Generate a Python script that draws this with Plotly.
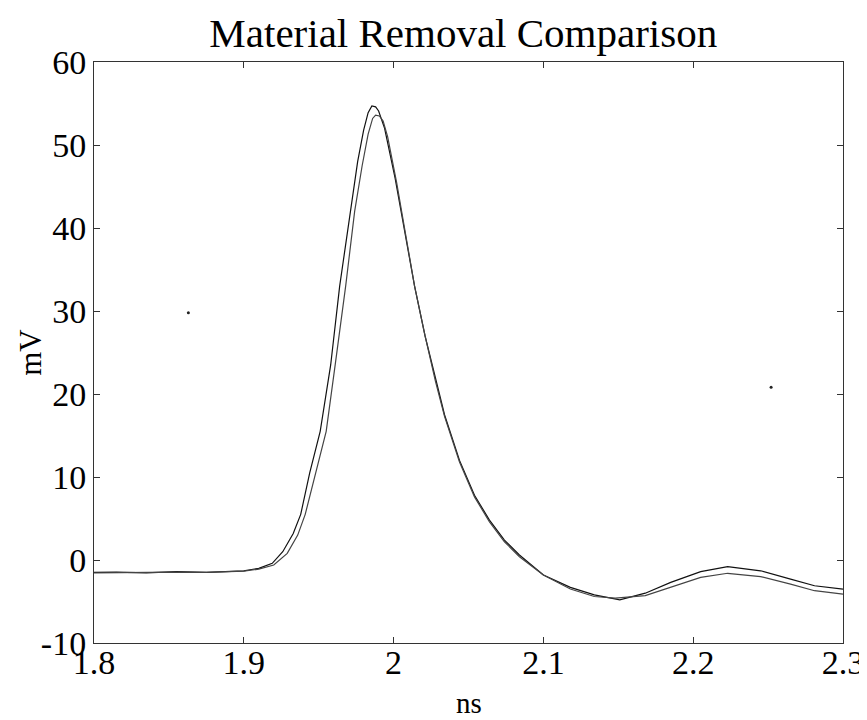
import plotly.graph_objects as go

# Curve A (higher peak)
time_a = [1.800, 1.815, 1.835, 1.855, 1.875, 1.890, 1.900, 1.910, 1.919, 1.926,
          1.933, 1.938, 1.944, 1.951, 1.958, 1.964, 1.971, 1.976, 1.980, 1.983,
          1.9855, 1.988, 1.990, 1.994, 2.001, 2.008, 2.014, 2.021, 2.028, 2.034,
          2.044, 2.054, 2.064, 2.074, 2.084, 2.100, 2.118, 2.134, 2.151, 2.168,
          2.185, 2.205, 2.223, 2.245, 2.265, 2.281, 2.300]
mv_a = [-1.5, -1.45, -1.55, -1.4, -1.5, -1.4, -1.3, -1.0, -0.4, 1.0,
        3.2, 5.5, 10.5, 15.5, 23.5, 33.0, 42.0, 48.0, 51.8, 53.9,
        54.7, 54.6, 54.1, 52.0, 46.0, 39.2, 33.0, 27.0, 21.7, 17.5,
        12.0, 7.8, 4.8, 2.4, 0.6, -1.8, -3.3, -4.2, -4.8, -4.0,
        -2.7, -1.4, -0.8, -1.3, -2.3, -3.1, -3.5]

# Curve B (lower peak)
time_b = [1.800, 1.815, 1.835, 1.855, 1.875, 1.890, 1.900, 1.910, 1.920, 1.929,
          1.936, 1.941, 1.948, 1.955, 1.961, 1.968, 1.974, 1.979, 1.983, 1.986,
          1.988, 1.9905, 1.993, 1.996, 2.002, 2.008, 2.014, 2.021, 2.028, 2.034,
          2.044, 2.054, 2.064, 2.074, 2.084, 2.100, 2.118, 2.134, 2.148, 2.168,
          2.185, 2.205, 2.223, 2.245, 2.265, 2.281, 2.300]
mv_b = [-1.55, -1.5, -1.5, -1.45, -1.5, -1.45, -1.35, -1.1, -0.6, 0.8,
        3.0, 5.5, 10.5, 15.5, 23.5, 33.0, 42.0, 47.5, 51.3, 53.2,
        53.6, 53.5, 52.9, 51.0, 45.5, 39.2, 33.0, 27.0, 21.5, 17.3,
        11.8, 7.6, 4.6, 2.2, 0.4, -1.8, -3.5, -4.4, -4.6, -4.3,
        -3.3, -2.1, -1.6, -2.0, -2.9, -3.7, -4.1]

# Stray specks visible in the scan
speck_time = [1.863, 2.252]
speck_mv = [29.8, 20.8]

x_ticks = [1.8, 1.9, 2.0, 2.1, 2.2, 2.3]
x_tick_labels = ["1.8", "1.9", "2", "2.1", "2.2", "2.3"]
y_ticks = [-10, 0, 10, 20, 30, 40, 50, 60]
y_tick_labels = ["-10", "0", "10", "20", "30", "40", "50", "60"]

fig = go.Figure()
fig.add_trace(go.Scatter(x=time_a, y=mv_a, mode="lines",
                         line=dict(color="#111111", width=1.2), showlegend=False))
fig.add_trace(go.Scatter(x=time_b, y=mv_b, mode="lines",
                         line=dict(color="#444444", width=1.2), showlegend=False))
fig.add_trace(go.Scatter(x=speck_time, y=speck_mv, mode="markers",
                         marker=dict(color="#222222", size=3), showlegend=False))

font_family = "Liberation Serif, Times New Roman, serif"
fig.update_layout(
    width=859, height=712,
    margin=dict(l=86, r=24, t=54, b=77, autoexpand=False),
    paper_bgcolor="white", plot_bgcolor="white",
    title=dict(text="Material Removal Comparison", x=0.53, xanchor="center",
               y=0.966, yanchor="middle",
               font=dict(family=font_family, size=41, color="black")),
    font=dict(family=font_family, color="black"),
    annotations=[
        dict(text="ns", xref="paper", yref="paper", x=0.5, y=-0.104,
             xanchor="center", yanchor="middle", showarrow=False,
             font=dict(family=font_family, size=29, color="black")),
        dict(text="mV", xref="paper", yref="paper", x=-0.085, y=0.5,
             xanchor="center", yanchor="middle", showarrow=False, textangle=-90,
             font=dict(family=font_family, size=31, color="black")),
    ],
)
fig.update_xaxes(range=[1.8, 2.3], tickvals=x_ticks, ticktext=x_tick_labels,
                 ticks="inside", ticklen=6, tickcolor="#333", automargin=False,
                 ticklabelstandoff=-11,
                 showline=True, linecolor="#333", linewidth=1, mirror="ticks",
                 showgrid=False, zeroline=False,
                 tickfont=dict(family=font_family, size=34))
fig.update_yaxes(range=[-10, 60], tickvals=y_ticks, ticktext=y_tick_labels,
                 ticks="inside", ticklen=6, tickcolor="#333", automargin=False,
                 showline=True, linecolor="#333", linewidth=1, mirror="ticks",
                 showgrid=False, zeroline=False,
                 tickfont=dict(family=font_family, size=34))

fig.write_html("out.html")
